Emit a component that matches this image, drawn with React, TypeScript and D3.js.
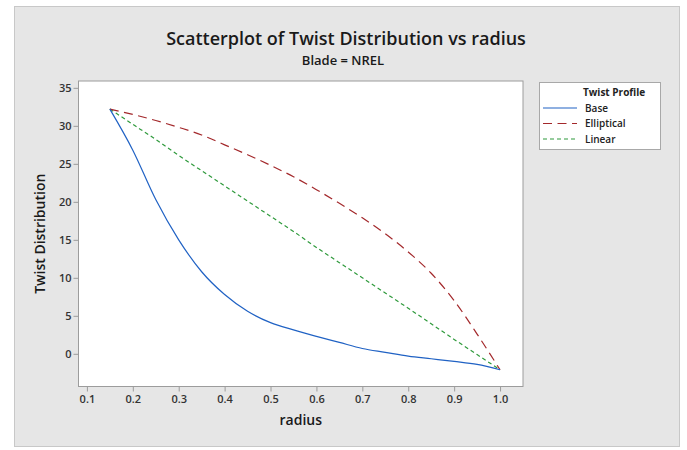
import React, { useEffect, useRef } from "react";
import * as d3 from "d3";

const radius = [0.15, 0.2, 0.25, 0.3, 0.35, 0.4, 0.45, 0.5, 0.55, 0.6, 0.65, 0.7, 0.75, 0.8, 0.85, 0.9, 0.95, 1.0];
const base = [32.2, 26.8, 20.3, 15.0, 10.8, 7.8, 5.6, 4.1, 3.15, 2.3, 1.5, 0.7, 0.2, -0.3, -0.65, -1.0, -1.4, -2.1];
const elliptical = [32.2, 31.5, 30.7, 29.8, 28.8, 27.5, 26.2, 24.8, 23.3, 21.6, 19.8, 17.9, 15.8, 13.4, 10.6, 7.0, 2.6, -2.1];
const linear = [32.2, 30.2, 28.2, 26.1, 24.1, 22.1, 20.1, 18.1, 16.1, 14.0, 12.0, 10.0, 8.0, 6.0, 3.95, 1.9, -0.1, -2.1];

const xTicks = [0.1, 0.2, 0.3, 0.4, 0.5, 0.6, 0.7, 0.8, 0.9, 1.0];
const yTicks = [0, 5, 10, 15, 20, 25, 30, 35];

const series = [
  { name: "Base", values: base, color: "#2062c4", dash: "" },
  { name: "Elliptical", values: elliptical, color: "#a3282b", dash: "9,5.5" },
  { name: "Linear", values: linear, color: "#2f9a3c", dash: "4,3" },
];

const App = () => {
  const ref = useRef<SVGSVGElement>(null);

  useEffect(() => {
    const svg = d3.select(ref.current);
    svg.selectAll("*").remove();

    const font = "'Open Sans', 'Noto Sans', sans-serif";
    const left = 78.5;
    const right = 523;
    const top = 81;
    const bottom = 386.5;

    const x = d3.scaleLinear().domain([0.0817, 1.05]).range([left, right]);
    const y = d3.scaleLinear().domain([-4.3, 35.9]).range([bottom, top]);

    // gray panel
    svg
      .append("rect")
      .attr("x", 14.5)
      .attr("y", 6.5)
      .attr("width", 665)
      .attr("height", 440)
      .attr("fill", "#e6e6e6")
      .attr("stroke", "#c8c8c8");

    // plot area
    svg
      .append("rect")
      .attr("x", left)
      .attr("y", top)
      .attr("width", right - left)
      .attr("height", bottom - top)
      .attr("fill", "#fff")
      .attr("stroke", "#9c9c9c");

    // titles
    svg
      .append("text")
      .attr("x", 346)
      .attr("y", 45)
      .attr("text-anchor", "middle")
      .style("font-family", font)
      .style("font-size", "18px")
      .style("font-weight", 600)
      .attr("fill", "#1a1a1a")
      .text("Scatterplot of Twist Distribution vs radius");

    svg
      .append("text")
      .attr("x", 343)
      .attr("y", 65)
      .attr("text-anchor", "middle")
      .style("font-family", font)
      .style("font-size", "13px")
      .style("font-weight", 600)
      .attr("fill", "#1a1a1a")
      .text("Blade = NREL");

    // x axis
    const xAxis = svg
      .append("g")
      .attr("transform", `translate(0,${bottom})`)
      .call(d3.axisBottom(x).tickValues(xTicks).tickSize(5).tickFormat(d3.format(".1f")));
    xAxis.select(".domain").remove();
    xAxis.selectAll("line").attr("stroke", "#9c9c9c");
    xAxis
      .selectAll("text")
      .attr("dy", "0.71em")
      .attr("y", 9)
      .style("font-family", font)
      .style("font-size", "11px")
      .style("font-weight", 600)
      .attr("fill", "#333");

    // y axis
    const yAxis = svg
      .append("g")
      .attr("transform", `translate(${left},0)`)
      .call(d3.axisLeft(y).tickValues(yTicks).tickSize(5));
    yAxis.select(".domain").remove();
    yAxis.selectAll("line").attr("stroke", "#9c9c9c");
    yAxis
      .selectAll("text")
      .attr("x", -7)
      .style("font-family", font)
      .style("font-size", "11px")
      .style("font-weight", 600)
      .attr("fill", "#333");

    svg
      .append("text")
      .attr("x", (left + right) / 2)
      .attr("y", 425)
      .attr("text-anchor", "middle")
      .style("font-family", font)
      .style("font-size", "14px")
      .style("font-weight", 600)
      .attr("fill", "#1a1a1a")
      .text("radius");

    svg
      .append("text")
      .attr("transform", `translate(45,${(top + bottom) / 2}) rotate(-90)`)
      .attr("text-anchor", "middle")
      .style("font-family", font)
      .style("font-size", "14px")
      .style("font-weight", 600)
      .attr("fill", "#1a1a1a")
      .text("Twist Distribution");

    // lines
    const line = d3
      .line<number>()
      .x((_, i) => x(radius[i]))
      .y((d) => y(d))
      .curve(d3.curveMonotoneX);

    series
      .slice()
      .reverse()
      .forEach((s) => {
        svg
          .append("path")
          .datum(s.values)
          .attr("d", line)
          .attr("fill", "none")
          .attr("stroke", s.color)
          .attr("stroke-width", 1.2)
          .attr("stroke-dasharray", s.dash);
      });

    // legend
    const lg = svg.append("g");
    lg.append("rect")
      .attr("x", 539.5)
      .attr("y", 82.5)
      .attr("width", 121)
      .attr("height", 67)
      .attr("fill", "#fff")
      .attr("stroke", "#a8a8a8");
    lg.append("text")
      .attr("x", 583)
      .attr("y", 95.5)
      .style("font-family", font)
      .style("font-size", "10px")
      .style("font-weight", 700)
      .attr("fill", "#222")
      .text("Twist Profile");
    series.forEach((s, i) => {
      const yy = 108 + i * 15.5;
      lg.append("line")
        .attr("x1", 543)
        .attr("x2", 577)
        .attr("y1", yy)
        .attr("y2", yy)
        .attr("stroke", s.color)
        .attr("stroke-width", 1.2)
        .attr("stroke-dasharray", s.dash);
      lg.append("text")
        .attr("x", 585)
        .attr("y", yy + 3.5)
        .style("font-family", font)
        .style("font-size", "10px")
        .style("font-weight", 600)
        .attr("fill", "#222")
        .text(s.name);
    });
  });

  return (
    <svg
      ref={ref}
      width={687}
      height={450}
      style={{ position: "absolute", left: 0, top: 0, background: "#fff" }}
    />
  );
};

export default App;
